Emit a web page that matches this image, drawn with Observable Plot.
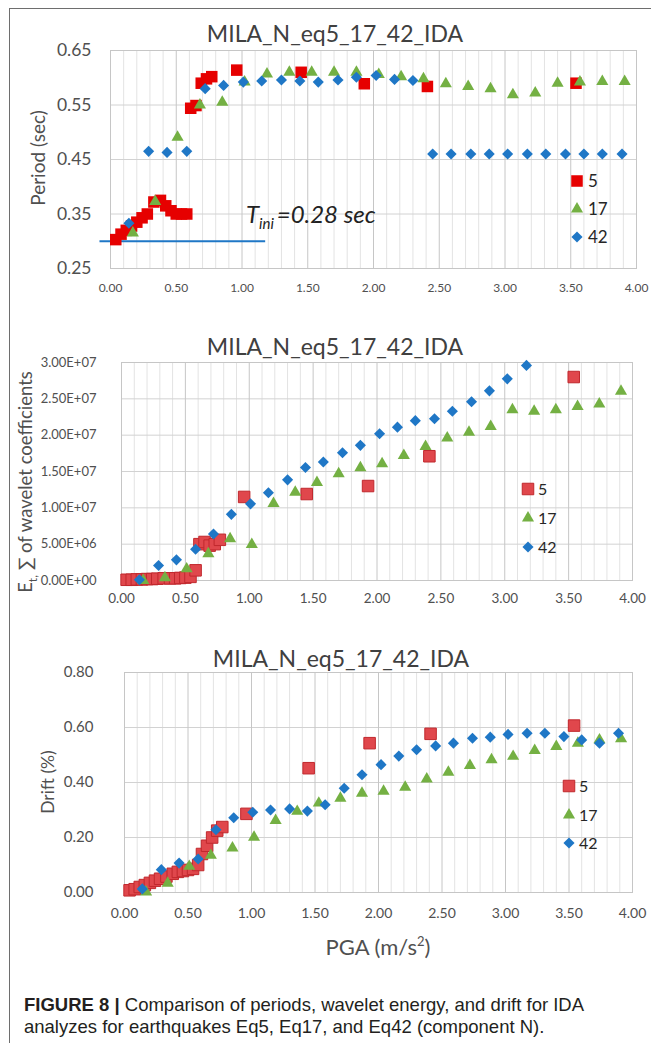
<!DOCTYPE html>
<html>
<head>
<meta charset="utf-8">
<script src="https://cdn.jsdelivr.net/npm/d3@7"></script>
<script src="https://cdn.jsdelivr.net/npm/@observablehq/plot@0.6"></script>
<style>
  body { margin: 0; background: #fff; }
  #root { position: relative; width: 651px; height: 1043px; overflow: hidden; font-family: Lato, sans-serif; color: #404040; }
  .abs { position: absolute; white-space: nowrap; }
  .c { transform: translate(-50%, -50%); }
  .rot { transform: translate(-50%, -50%) rotate(-90deg); }
  .panel { position: absolute; left: 0; }
  .frameL { position: absolute; left: 9px; top: 8px; width: 0; height: 1040px; border-left: 1px solid #6e6e6e; }
  .frameT { position: absolute; left: 9px; top: 8px; width: 650px; height: 0; border-top: 1px solid #6e6e6e; }
  .caption { position: absolute; left: 24px; top: 994px; font-family: "Liberation Sans", Arial, sans-serif; font-size: 18.5px; line-height: 22px; color: #231f20; }
</style>
</head>
<body>
<div id="root"></div>
<script>
// ---------- data ----------
const seriesNames = ["5", "17", "42"];
const panelTitle = "MILA_N_eq5_17_42_IDA";

const xMajorTicks = [0, 0.5, 1, 1.5, 2, 2.5, 3, 3.5, 4];
const xMinorTicks = [0.1,0.2,0.3,0.4,0.6,0.7,0.8,0.9,1.1,1.2,1.3,1.4,1.6,1.7,1.8,1.9,2.1,2.2,2.3,2.4,2.6,2.7,2.8,2.9,3.1,3.2,3.3,3.4,3.6,3.7,3.8,3.9];
const periodTicks = [0.25, 0.35, 0.45, 0.55, 0.65];
const energyTicks = [0, 5e6, 10e6, 15e6, 20e6, 25e6, 30e6];
const driftTicks = [0, 0.2, 0.4, 0.6, 0.8];

// Eq5
const pga5 = [0.04,0.08,0.12,0.16,0.20,0.24,0.28,0.33,0.38,0.42,0.46,0.50,0.54,0.58,0.61,0.65,0.69,0.73,0.77,0.96,1.45,1.93,2.41,3.54];
const period5 = [0.303,0.313,0.320,0.328,0.335,0.343,0.350,0.372,0.375,0.365,0.356,0.350,0.350,0.350,0.544,0.549,0.590,0.598,0.602,0.614,0.610,0.589,0.584,0.590];
const energy5 = [0.10e6,0.10e6,0.15e6,0.15e6,0.20e6,0.20e6,0.25e6,0.30e6,0.30e6,0.30e6,0.35e6,0.40e6,0.50e6,1.4e6,5.0e6,5.3e6,4.8e6,5.0e6,5.6e6,11.5e6,11.9e6,13.0e6,17.1e6,28.0e6];
const drift5 = [0.008,0.012,0.020,0.027,0.035,0.043,0.050,0.058,0.068,0.075,0.078,0.082,0.086,0.100,0.140,0.170,0.200,0.225,0.238,0.286,0.452,0.543,0.577,0.607];

// Eq17
const pga17 = [0.17,0.34,0.51,0.68,0.85,1.02,1.19,1.36,1.53,1.70,1.87,2.04,2.21,2.38,2.55,2.72,2.89,3.06,3.23,3.40,3.57,3.74,3.91];
const period17 = [0.315,0.373,0.491,0.550,0.555,0.592,0.607,0.610,0.610,0.610,0.610,0.606,0.602,0.598,0.589,0.584,0.580,0.569,0.572,0.590,0.592,0.593,0.593];
const energy17 = [0.0,0.37e6,1.6e6,3.67e6,5.73e6,4.95e6,10.6e6,12.15e6,13.5e6,14.7e6,15.5e6,16.05e6,17.2e6,18.45e6,19.6e6,20.4e6,21.2e6,23.5e6,23.3e6,23.5e6,23.95e6,24.3e6,26.05e6];
const drift17 = [0.002,0.034,0.095,0.135,0.162,0.201,0.262,0.295,0.325,0.343,0.361,0.368,0.383,0.413,0.437,0.462,0.483,0.495,0.516,0.531,0.543,0.555,0.559];

// Eq42
const pga42 = [0.14,0.29,0.43,0.58,0.72,0.86,1.01,1.15,1.30,1.44,1.58,1.73,1.87,2.02,2.16,2.30,2.45,2.59,2.74,2.88,3.02,3.17,3.31,3.46,3.60,3.74,3.89];
const period42 = [0.333,0.465,0.463,0.465,0.580,0.586,0.592,0.594,0.596,0.594,0.592,0.596,0.601,0.604,0.597,0.595,0.460,0.460,0.460,0.460,0.460,0.460,0.460,0.460,0.460,0.460,0.460];
const energy42 = [0.1e6,2.06e6,2.84e6,4.3e6,6.4e6,9.1e6,10.55e6,12.07e6,13.85e6,15.55e6,16.3e6,17.57e6,18.6e6,20.2e6,21.1e6,22.0e6,22.25e6,23.3e6,24.6e6,26.1e6,27.75e6,29.6e6];
const drift42 = [0.013,0.083,0.107,0.122,0.228,0.272,0.292,0.300,0.304,0.296,0.319,0.379,0.428,0.465,0.496,0.519,0.533,0.543,0.561,0.565,0.575,0.579,0.579,0.567,0.555,0.543,0.579];

// T_ini annotation line
const tiniLevel = [0.30];
const tiniSpan = [-0.08, 1.18];

// ---------- styling ----------
const RED = "#e60000", RED2 = "#e0474c", RED2S = "#c0282d";
const GREEN = "#74b043", BLUE = "#1f77c6";
const SQ_R = 6.5, TRI_R = 4.5, DIA_R = 5;

const rows = (xs, ys) => xs.map((x, i) => ({pga: x, v: ys[i]})).filter(d => d.v != null);
const expFmt = v => { const [m, e] = v.toExponential(2).split("e"); return m + "E" + e[0] + e.slice(1).padStart(2, "0"); };

function panel(c) {
  return Plot.plot({
    width: 651, height: 300,
    marginTop: c.mt, marginRight: c.mr, marginBottom: c.mb, marginLeft: c.ml,
    style: {background: "transparent", fontFamily: "Lato, sans-serif", overflow: "visible"},
    x: {domain: [0, 4]},
    y: {domain: c.yDomain},
    marks: [
      Plot.ruleX(xMinorTicks, {stroke: "#e3e3e3"}),
      Plot.ruleY(c.yTicks, {stroke: "#d2d2d2"}),
      Plot.ruleX(xMajorTicks, {stroke: "#c6c6c6"}),
      Plot.frame({stroke: "#c6c6c6"}),
      Plot.axisX({ticks: xMajorTicks, tickFormat: d3.format(".2f"), tickSize: 0, tickPadding: c.xPad, fontSize: c.xFs, label: null, fill: "#505050"}),
      Plot.axisY({ticks: c.yTicks, tickFormat: c.yFmt, tickSize: 0, tickPadding: c.yPad, fontSize: c.yFs, label: null, fill: "#505050"}),
      ...(c.extra || []),
      Plot.dot(rows(pga5, c.v5), {x: "pga", y: "v", symbol: "square", r: SQ_R, fill: c.red, stroke: c.redStroke, strokeWidth: 1}),
      Plot.dot(rows(pga17, c.v17), {x: "pga", y: "v", symbol: "triangle", r: TRI_R, fill: GREEN, stroke: "none"}),
      Plot.dot(rows(pga42, c.v42), {x: "pga", y: "v", symbol: d3.symbolDiamond2, r: DIA_R, fill: BLUE, stroke: "none"})
    ]
  });
}

const root = document.getElementById("root");
function addDiv(cls, html, left, top, style) {
  const d = document.createElement("div");
  d.className = "abs " + cls;
  d.innerHTML = html;
  d.style.left = left + "px";
  d.style.top = top + "px";
  if (style) Object.assign(d.style, style);
  root.appendChild(d);
  return d;
}
function addPanel(svg, top) {
  const w = document.createElement("div");
  w.className = "panel";
  w.style.top = top + "px";
  w.appendChild(svg);
  root.appendChild(w);
}

// frame lines
const fl = document.createElement("div"); fl.className = "frameL"; root.appendChild(fl);
const ft = document.createElement("div"); ft.className = "frameT"; root.appendChild(ft);

// Panel 1: Period
addPanel(panel({
  mt: 50, mr: 15, mb: 32, ml: 110,
  yDomain: [0.25, 0.65], yTicks: periodTicks, yFmt: d3.format(".2f"),
  xPad: 15, xFs: 12, yPad: 19, yFs: 17.5,
  v5: period5, v17: period17, v42: period42,
  red: RED, redStroke: "none",
  extra: [Plot.ruleY(tiniLevel, {x1: tiniSpan[0], x2: tiniSpan[1], stroke: BLUE, strokeWidth: 2})]
}), 0);

// Panel 2: Energy
addPanel(panel({
  mt: 52, mr: 19, mb: 30, ml: 121,
  yDomain: [0, 3e7], yTicks: energyTicks, yFmt: expFmt,
  xPad: 13, xFs: 13.5, yPad: 25, yFs: 13,
  v5: energy5, v17: energy17, v42: energy42,
  red: RED2, redStroke: RED2S
}), 310);

// Panel 3: Drift
addPanel(panel({
  mt: 52, mr: 19, mb: 28, ml: 124,
  yDomain: [0, 0.8], yTicks: driftTicks, yFmt: d3.format(".2f"),
  xPad: 16, xFs: 14, yPad: 31, yFs: 15,
  v5: drift5, v17: drift17, v42: drift42,
  red: RED2, redStroke: RED2S
}), 620);

// titles
addDiv("c", panelTitle, 335, 33, {fontSize: "23px"});
addDiv("c", panelTitle, 335, 346, {fontSize: "23px"});
addDiv("c", panelTitle, 341, 658, {fontSize: "23px"});

// axis titles
addDiv("rot", "Period (sec)", 37, 158, {fontSize: "19px", color: "#505050"});
addDiv("rot", "E<sub style='font-size:12px'>t,</sub> &#8721; of wavelet coefficients", 27, 482, {fontSize: "18.5px", color: "#505050"});
addDiv("rot", "Drift (%)", 47, 782, {fontSize: "17.5px", color: "#505050"});
addDiv("c", "PGA (m/s<sup style='font-size:13px'>2</sup>)", 378, 946, {fontSize: "22px", color: "#505050"});

// T_ini annotation
addDiv("", "<i>T<sub style='font-size:15px'>ini</sub>&#8201;=0.28 sec</i>", 246, 199, {fontSize: "24px", color: "#222"});

// legends
const legendSpecs = [
  {sx: 577, ys: [181, 209, 237], tx: 588, fs: 17, red: RED, redStroke: "none"},
  {sx: 528, ys: [489, 518, 547], tx: 538, fs: 16, red: RED2, redStroke: RED2S},
  {sx: 569, ys: [786, 815, 843], tx: 579, fs: 16, red: RED2, redStroke: RED2S}
];
const ov = d3.select(root).append("svg").attr("width", 651).attr("height", 1043)
  .style("position", "absolute").style("left", 0).style("top", 0).style("font-family", "Lato, sans-serif");
const symArea = r => Math.PI * r * r;
for (const L of legendSpecs) {
  const syms = [
    {t: d3.symbolSquare, r: SQ_R, fill: L.red, stroke: L.redStroke},
    {t: d3.symbolTriangle, r: TRI_R, fill: GREEN, stroke: "none"},
    {t: d3.symbolDiamond2, r: DIA_R, fill: BLUE, stroke: "none"}
  ];
  syms.forEach((s, i) => {
    ov.append("path").attr("d", d3.symbol(s.t, symArea(s.r))())
      .attr("transform", `translate(${L.sx},${L.ys[i]})`)
      .attr("fill", s.fill).attr("stroke", s.stroke);
    ov.append("text").attr("x", L.tx).attr("y", L.ys[i]).attr("dy", "0.35em")
      .attr("font-size", L.fs).attr("fill", "#262626").text(seriesNames[i]);
  });
}

// caption
const cap = document.createElement("div");
cap.className = "caption";
cap.innerHTML = "<b>FIGURE 8 |</b> Comparison of periods, wavelet energy, and drift for IDA<br>analyzes for earthquakes Eq5, Eq17, and Eq42 (component N).";
root.appendChild(cap);
</script>
</body>
</html>
